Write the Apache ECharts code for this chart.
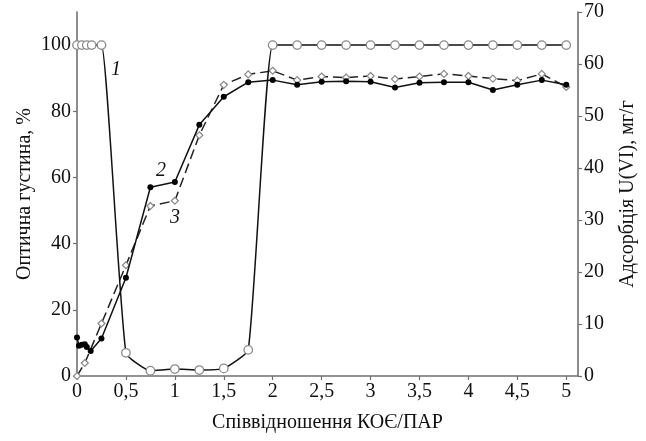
<!DOCTYPE html>
<html>
<head>
<meta charset="utf-8">
<script src="https://cdn.jsdelivr.net/npm/echarts@6/dist/echarts.min.js"></script>
<style>
  html, body { margin: 0; padding: 0; background: #fff; }
  #chart { width: 646px; height: 441px; }
</style>
</head>
<body>
<div id="chart"></div>
<script>
// оптична густина (крива 1), %
const optX = [0, 0.05, 0.1, 0.15, 0.25, 0.5, 0.75, 1, 1.25, 1.5, 1.75, 2, 2.25, 2.5, 2.75, 3, 3.25, 3.5, 3.75, 4, 4.25, 4.5, 4.75, 5]
const optY = [100, 100, 100, 100, 100, 7, 1.6, 2.1, 1.8, 2.3, 7.9, 100, 100, 100, 100, 100, 100, 100, 100, 100, 100, 100, 100, 100]

// адсорбція U(VI), мг/г (крива 2)
const adsX = [0, 0.02, 0.05, 0.08, 0.1, 0.14, 0.25, 0.5, 0.75, 1, 1.25, 1.5, 1.75, 2, 2.25, 2.5, 2.75, 3, 3.25, 3.5, 3.75, 4, 4.25, 4.5, 4.75, 5]
const adsY = [7.4, 5.8, 6.0, 6.1, 5.6, 4.8, 7.2, 18.9, 36.3, 37.3, 48.3, 53.7, 56.5, 56.9, 56.0, 56.6, 56.7, 56.6, 55.5, 56.4, 56.5, 56.5, 55.0, 56.0, 56.9, 56.0]

// адсорбція (крива 3, пунктир)
const ads3X = [0, 0.08, 0.25, 0.5, 0.75, 1, 1.25, 1.5, 1.75, 2, 2.25, 2.5, 2.75, 3, 3.25, 3.5, 3.75, 4, 4.25, 4.5, 4.75, 5]
const ads3Y = [0, 2.5, 10.1, 21.3, 32.7, 33.7, 46.3, 56.0, 58.0, 58.7, 56.9, 57.6, 57.4, 57.7, 57.1, 57.6, 58.1, 57.7, 57.2, 56.8, 58.1, 55.6]

const xTicks = [0, 0.5, 1, 1.5, 2, 2.5, 3, 3.5, 4, 4.5, 5]
const leftTicks = [0, 20, 40, 60, 80, 100]
const rightTicks = [0, 10, 20, 30, 40, 50, 60, 70]

const pairs = (xs, ys) => xs.map((x, i) => [x, ys[i]])
const comma = v => String(v).replace(".", ",")

const font = "Liberation Serif"
const axisGray = "#707070"

const chart = echarts.init(document.getElementById("chart"))
const option = {
  animation: false,
  textStyle: { fontFamily: font },
  grid: { left: 77, right: 67, top: 12, bottom: 65 },
  xAxis: {
    type: "value",
    min: 0,
    max: 5.12,
    name: "Співвідношення КОЄ/ПАР",
    nameLocation: "middle",
    nameGap: 37,
    nameTextStyle: { fontFamily: font, fontSize: 20, color: "#111" },
    splitLine: { show: false },
    axisLine: { onZero: false, lineStyle: { color: axisGray, width: 1.6 } },
    axisTick: { customValues: xTicks, length: 4, lineStyle: { color: axisGray, width: 1.2 } },
    axisLabel: {
      customValues: xTicks,
      formatter: comma,
      fontFamily: font,
      fontSize: 20,
      color: "#111",
      margin: 6
    }
  },
  yAxis: [
    {
      type: "value",
      position: "left",
      min: 0,
      max: 110,
      name: "Оптична густина, %",
      nameLocation: "middle",
      nameRotate: 90,
      nameGap: 42,
      nameMoveOverlap: false,
      nameTextStyle: { fontFamily: font, fontSize: 20, color: "#111" },
      splitLine: { show: false },
      axisLine: { show: true, lineStyle: { color: axisGray, width: 1.6 } },
      axisTick: { show: true, customValues: leftTicks, length: 4, lineStyle: { color: axisGray, width: 1.2 } },
      axisLabel: { customValues: leftTicks, fontFamily: font, fontSize: 20, color: "#111", margin: 6 }
    },
    {
      type: "value",
      position: "right",
      min: 0,
      max: 70,
      name: "Адсорбція U(VI), мг/г",
      nameLocation: "middle",
      nameRotate: 90,
      nameGap: 40,
      nameTextStyle: { fontFamily: font, fontSize: 20, color: "#111" },
      splitLine: { show: false },
      axisLine: { show: true, lineStyle: { color: axisGray, width: 1.6 } },
      axisTick: { show: true, customValues: rightTicks, length: 4, lineStyle: { color: axisGray, width: 1.2 } },
      axisLabel: { customValues: rightTicks, fontFamily: font, fontSize: 20, color: "#111", margin: 6 }
    }
  ],
  series: [
    {
      name: "3",
      type: "line",
      yAxisIndex: 1,
      data: pairs(ads3X, ads3Y),
      symbol: "diamond",
      symbolSize: 7,
      showAllSymbol: true,
      lineStyle: { color: "#222", width: 1.5, type: [10, 5] },
      itemStyle: { color: "#fff", borderColor: "#888", borderWidth: 1.2 },
      z: 2
    },
    {
      name: "2",
      type: "line",
      yAxisIndex: 1,
      data: pairs(adsX, adsY),
      symbol: "circle",
      symbolSize: 6,
      showAllSymbol: true,
      lineStyle: { color: "#111", width: 1.5 },
      itemStyle: { color: "#000", borderColor: "#000", borderWidth: 0 },
      z: 3
    },
    {
      name: "1",
      type: "line",
      yAxisIndex: 0,
      data: pairs(optX, optY),
      smooth: 0.15,
      symbol: "circle",
      symbolSize: 8.5,
      showAllSymbol: true,
      lineStyle: { color: "#111", width: 1.5 },
      itemStyle: { color: "#fff", borderColor: "#8a8a8a", borderWidth: 1.3 },
      z: 4
    }
  ],
  graphic: [
    { type: "text", left: 111, top: 60, style: { text: "1", font: "italic 20px 'Liberation Serif'", fill: "#111" } },
    { type: "text", left: 156, top: 161, style: { text: "2", font: "italic 20px 'Liberation Serif'", fill: "#111" } },
    { type: "text", left: 170, top: 208, style: { text: "3", font: "italic 20px 'Liberation Serif'", fill: "#111" } }
  ]
}
chart.setOption(option)
window.addEventListener("resize", () => chart.resize())
</script>
</body>
</html>
